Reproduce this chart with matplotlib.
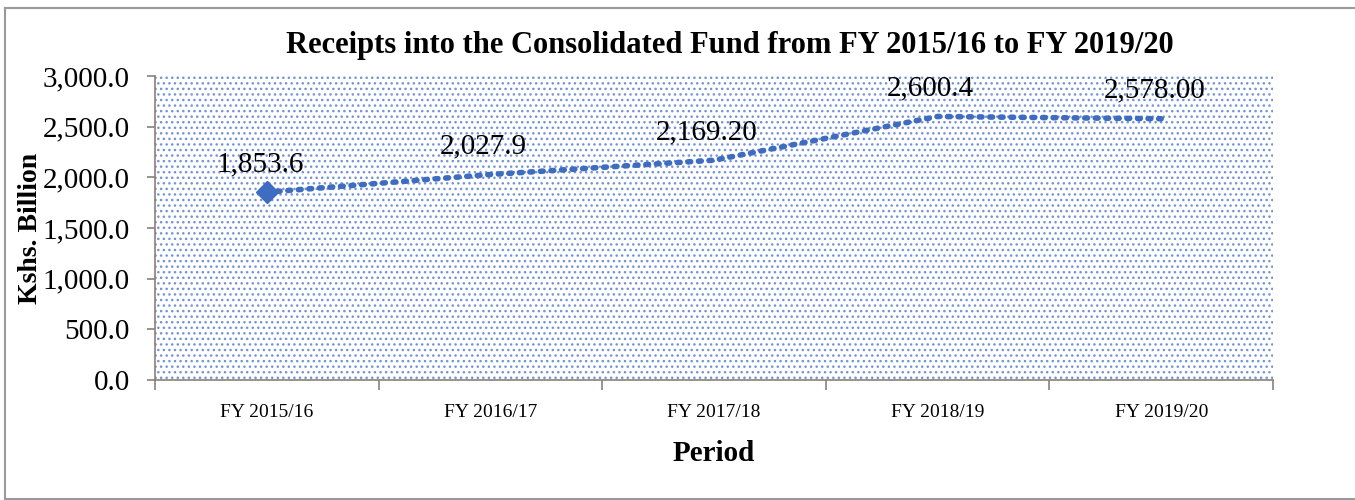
import matplotlib
matplotlib.use("Agg")
import matplotlib.pyplot as plt
from matplotlib.patches import Rectangle
from matplotlib.lines import Line2D
from matplotlib.ticker import FuncFormatter, FixedLocator

periods = ["FY 2015/16", "FY 2016/17", "FY 2017/18", "FY 2018/19", "FY 2019/20"]
receipts = [1853.6, 2027.9, 2169.2, 2600.4, 2578.0]
point_labels = ["1,853.6", "2,027.9", "2,169.20", "2,600.4", "2,578.00"]
y_ticks = [0, 500, 1000, 1500, 2000, 2500, 3000]

plt.rcParams["font.family"] = ["Liberation Serif", "DejaVu Serif"]
plt.rcParams["hatch.linewidth"] = 1.0

blue = "#3e6cc0"
axis_grey = "#8c8079"

fig = plt.figure(figsize=(13.55, 5.0), dpi=100)
ax = fig.add_axes([155 / 1355, 120 / 500, 1118 / 1355, 304 / 500])

# dotted background of the plot area
ax.add_patch(Rectangle((0, 0), 1, 1, transform=ax.transAxes, facecolor="white",
                       edgecolor="#7393d4", hatch="...", lw=0, zorder=0))

x = list(range(len(periods)))
ax.plot(x, receipts, color=blue, lw=4, linestyle=(0, (0.5, 1.4)),
        dash_capstyle="round", zorder=3)
ax.plot(x[0], receipts[0], marker="D", color=blue, ms=11, zorder=4)

for xi, yi, lab in zip(x, receipts, point_labels):
    ax.annotate(lab, (xi, yi), xytext=(-5, 11), textcoords="offset points",
                ha="center", va="bottom", fontsize=21, zorder=5)

ax.set_xlim(-0.5, len(periods) - 0.5)
ax.set_ylim(0, 3000)
ax.set_yticks(y_ticks)
ax.yaxis.set_major_formatter(FuncFormatter(lambda v, p: f"{v:,.1f}"))
ax.tick_params(axis="y", labelsize=21, length=6, color=axis_grey, width=1.2, pad=12)

ax.set_xticks(x)
ax.set_xticklabels(periods)
ax.xaxis.set_minor_locator(FixedLocator([i - 0.5 for i in range(len(periods) + 1)]))
ax.tick_params(axis="x", which="major", length=0, labelsize=14, pad=17)
ax.tick_params(axis="x", which="minor", length=7, color=axis_grey, width=1.2)

for s in ["top", "right"]:
    ax.spines[s].set_visible(False)
for s in ["left", "bottom"]:
    ax.spines[s].set_color(axis_grey)
    ax.spines[s].set_linewidth(1.2)

ax.set_xlabel("Period", fontsize=21, fontweight="bold", labelpad=14)
ax.set_ylabel("Kshs. Billion", fontsize=20, fontweight="bold", labelpad=0)

fig.text(730 / 1355, 1 - 45 / 500,
         "Receipts into the Consolidated Fund from FY 2015/16 to FY 2019/20",
         ha="center", va="center", fontsize=22, fontweight="bold")

# outer chart frame
for xs, ys in [([0.004, 0.004], [0.0, 0.984]), ([0.004, 1.0], [0.984, 0.984]),
               ([0.004, 1.0], [0.003, 0.003])]:
    fig.add_artist(Line2D(xs, ys, transform=fig.transFigure, color="#9a9a9a", lw=1.5))

fig.savefig("out.png", dpi=100)
